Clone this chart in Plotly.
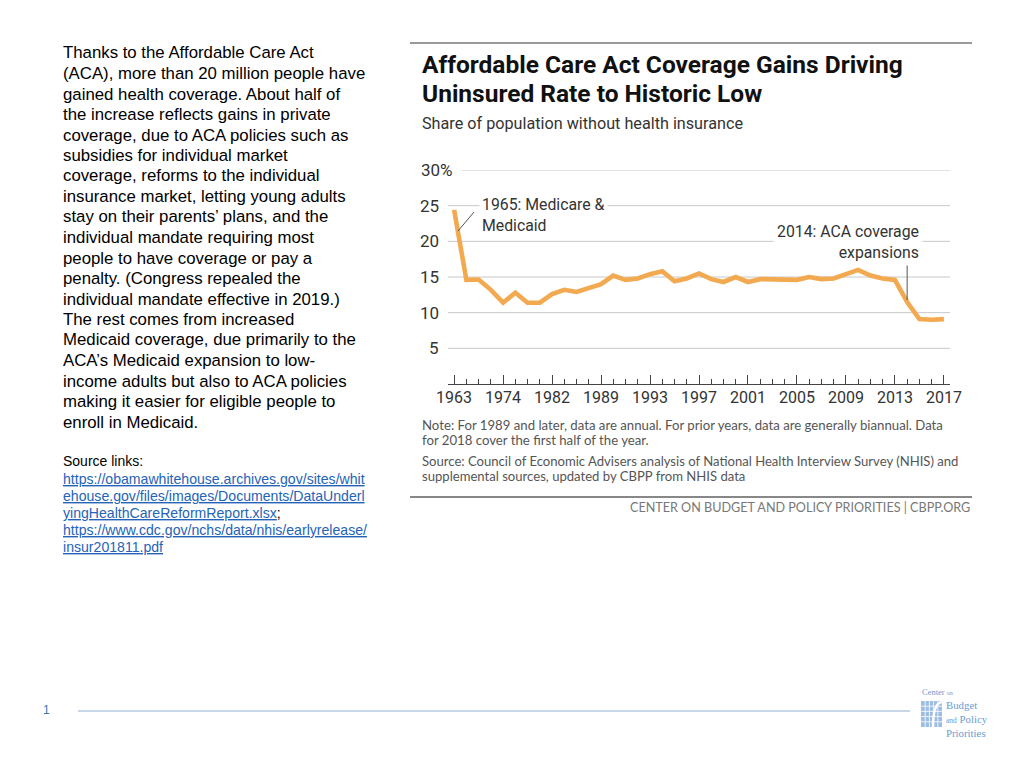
import plotly.graph_objects as go

# ---------------- data ----------------
years = [1963, 1968, 1970, 1972, 1974, 1976, 1978, 1980, 1982, 1984, 1986, 1987,
         1989, 1990, 1991, 1992, 1993, 1994, 1995, 1996, 1997, 1998, 1999, 2000,
         2001, 2002, 2003, 2004, 2005, 2006, 2007, 2008, 2009, 2010, 2011, 2012,
         2013, 2014, 2015, 2016, 2017]
uninsured_pct = [24.4, 14.6, 14.65, 13.2, 11.4, 12.8, 11.4, 11.4, 12.6, 13.2, 12.9, 13.4,
                 14.0, 15.2, 14.6, 14.8, 15.4, 15.8, 14.4, 14.8, 15.5, 14.7, 14.3, 15.0,
                 14.3, 14.7, 14.7, 14.7, 14.6, 15.0, 14.7, 14.8, 15.4, 16.0, 15.2, 14.8,
                 14.6, 11.5, 9.1, 9.0, 9.1]
labeled_years = [1963, 1974, 1982, 1989, 1993, 1997, 2001, 2005, 2009, 2013, 2017]
y_ticks = [0, 5, 10, 15, 20, 25, 30]

title_lines = [
    "Affordable Care Act Coverage Gains Driving",
    "Uninsured Rate to Historic Low",
]
body_lines = [
    "Thanks to the Affordable Care Act",
    "(ACA), more than 20 million people have",
    "gained health coverage. About half of",
    "the increase reflects gains in private",
    "coverage, due to ACA policies such as",
    "subsidies for individual market",
    "coverage, reforms to the individual",
    "insurance market, letting young adults",
    "stay on their parents\u2019 plans, and the",
    "individual mandate requiring most",
    "people to have coverage or pay a",
    "penalty. (Congress repealed the",
    "individual mandate effective in 2019.)",
    "The rest comes from increased",
    "Medicaid coverage, due primarily to the",
    "ACA\u2019s Medicaid expansion to low-",
    "income adults but also to ACA policies",
    "making it easier for eligible people to",
    "enroll in Medicaid.",
]
link_lines = [
    "https://obamawhitehouse.archives.gov/sites/whit",
    "ehouse.gov/files/images/Documents/DataUnderl",
    "yingHealthCareReformReport.xlsx",
    "https://www.cdc.gov/nchs/data/nhis/earlyrelease/",
    "insur201811.pdf",
]
note_lines = [
    "Note: For 1989 and later, data are annual. For prior years, data are generally biannual. Data",
    "for 2018 cover the first half of the year.",
]
source_lines = [
    "Source: Council of Economic Advisers analysis of National Health Interview Survey (NHIS) and",
    "supplemental sources, updated by CBPP from NHIS data",
]

# ---------------- helpers ----------------
W, H = 1024, 768
def PX(x):
    return x / W
def PY(y):
    return 1 - y / H

X0, X1 = 448, 950        # plot area (px)
Y0, Y1 = 384, 170        # y=0 and y=30 (px)

LINE_COLOR = "#F2A94F"
COND = "Roboto, sans-serif"
BOLD = "Roboto, sans-serif"
NOTE = "Lato, Roboto, sans-serif"
ARIAL = "Liberation Sans, Arial, sans-serif"
SERIF = "Liberation Serif, DejaVu Serif, serif"

idx = list(range(len(years)))
tickvals = [years.index(y) for y in labeled_years]

fig = go.Figure()
fig.add_trace(go.Scatter(
    x=idx, y=uninsured_pct, mode="lines",
    line=dict(color=LINE_COLOR, width=4.6),
    text=[str(y) for y in years],
    hovertemplate="%{text}: %{y}%<extra></extra>",
    showlegend=False,
))

shapes = []
annotations = []

def txt(x, y, text, size, color, family, xanchor="left", yanchor="middle", **kw):
    annotations.append(dict(xref="paper", yref="paper", x=PX(x), y=PY(y), text=text,
                            xanchor=xanchor, yanchor=yanchor, showarrow=False,
                            font=dict(family=family, size=size, color=color), **kw))

# gridlines
for t in y_ticks[1:]:
    x_start = PX(461) if t == 30 else PX(X0)
    shapes.append(dict(type="line", xref="paper", yref="y", x0=x_start, x1=PX(X1),
                       y0=t, y1=t, line=dict(color="#c8c8c8", width=1), layer="below"))

# y labels
for t in y_ticks:
    yy = t if t else -0.55
    label = "30%" if t == 30 else str(t)
    xr = 455 if t == 30 else 441
    annotations.append(dict(xref="paper", yref="y", x=PX(xr), y=yy, text=label,
                            xanchor="right", yanchor="middle", showarrow=False,
                            font=dict(family=COND, size=17, color="#333")))
# x labels
for v, yr in zip(tickvals, labeled_years):
    annotations.append(dict(xref="x", yref="paper", x=v, y=PY(397), text=str(yr),
                            xanchor="center", yanchor="middle", showarrow=False,
                            font=dict(family=COND, size=16, color="#333")))

# chart annotations
txt(479, 215, "1965: Medicare &<br>Medicaid", 15.8, "#333", COND,
    align="left", bgcolor="white", borderpad=2)
shapes.append(dict(type="line", xref="paper", yref="paper", x0=PX(458), y0=PY(231),
                   x1=PX(474), y1=PY(212), line=dict(color="#555", width=1)))
txt(923, 242, "2014: ACA coverage<br>expansions", 15.8, "#333", COND, xanchor="right",
    align="right", bgcolor="white", borderpad=3)
i2014 = years.index(2014)
shapes.append(dict(type="line", xref="x", yref="paper", x0=i2014, x1=i2014,
                   y0=PY(262), y1=PY(300), line=dict(color="#555", width=1)))

# title block (line spacing set by the base size, glyphs drawn at 24.5px)
shapes.append(dict(type="line", xref="paper", yref="paper", x0=PX(410), x1=PX(972),
                   y0=PY(43), y1=PY(43), line=dict(color="#777", width=1.5)))
title_html = "<br>".join("<span style='font-size:24.5px'><b>%s</b></span>" % l for l in title_lines)
txt(420, 79, title_html, 22.5, "#111", BOLD, align="left")
txt(420, 123, "Share of population without health insurance", 16.2, "#333", COND)

# notes
for i, l in enumerate(note_lines):
    txt(420, 425 + 15 * i, l, 13.2, "#555", NOTE)
for i, l in enumerate(source_lines):
    txt(420, 461 + 15 * i, l, 13.1, "#555", NOTE)
shapes.append(dict(type="line", xref="paper", yref="paper", x0=PX(410), x1=PX(972),
                   y0=PY(497), y1=PY(497), line=dict(color="#888", width=2)))
txt(972, 507, "CENTER ON BUDGET AND POLICY PRIORITIES | CBPP.ORG", 12.6, "#777", NOTE,
    xanchor="right")

# left body text
for i, l in enumerate(body_lines):
    txt(61, 53 + 20.5 * i, l, 16.8, "#000", ARIAL)
txt(61, 461, "Source links:", 14, "#000", ARIAL)
for i, l in enumerate(link_lines):
    t = "<span style='text-decoration:underline'>%s</span>" % l
    if i == 2:
        t += "<span style='color:#000'>;</span>"
    txt(61, 479 + 17 * i, t, 14.1, "#2563b8", ARIAL)

# slide footer
txt(46, 710, "1", 12, "#3a78b5", ARIAL, xanchor="center")
shapes.append(dict(type="line", xref="paper", yref="paper", x0=PX(78), x1=PX(910),
                   y0=PY(711), y1=PY(711), line=dict(color="#8fb0d0", width=1.2)))

# logo
LOGO = "#6b9bd1"
shapes.append(dict(type="rect", xref="paper", yref="paper", x0=PX(921), x1=PX(942),
                   y0=PY(727), y1=PY(701), fillcolor="#9dbde2", line=dict(width=0)))
for k in range(1, 5):
    shapes.append(dict(type="line", xref="paper", yref="paper", x0=PX(921 + k * 4.2),
                       x1=PX(921 + k * 4.2), y0=PY(727), y1=PY(701),
                       line=dict(color="white", width=0.8)))
    shapes.append(dict(type="line", xref="paper", yref="paper", x0=PX(921), x1=PX(942),
                       y0=PY(701 + k * 5.2), y1=PY(701 + k * 5.2),
                       line=dict(color="white", width=0.8)))
shapes.append(dict(type="path", xref="paper", yref="paper",
                   path="M %f %f Q %f %f %f %f" % (PX(933), PY(727), PX(933), PY(703), PX(942), PY(702)),
                   line=dict(color="white", width=2.5)))
txt(920, 692, "Center <span style='font-size:6px'>on</span>", 8.5, LOGO, SERIF)
txt(944, 697, "Budget<br><span style='font-size:7.5px'>and</span> Policy<br>Priorities", 10.8,
    LOGO, SERIF, yanchor="top", align="left")

fig.update_layout(
    width=W, height=H,
    margin=dict(l=0, r=0, t=0, b=0),
    paper_bgcolor="white", plot_bgcolor="white",
    shapes=shapes, annotations=annotations,
    xaxis=dict(domain=[PX(X0), PX(X1)], range=[-0.5, len(years) - 0.5],
               showgrid=False, zeroline=False, showline=True, linecolor="#444", linewidth=1.2,
               ticks="inside", ticklen=9, tickwidth=1.2, tickcolor="#444",
               tickmode="array", tickvals=tickvals, showticklabels=False,
               minor=dict(ticks="inside", ticklen=5, tickwidth=1, tickcolor="#444",
                          tickmode="linear", tick0=0, dtick=1, showgrid=False),
               fixedrange=True),
    yaxis=dict(domain=[PY(Y0), PY(Y1)], range=[0, 30], showgrid=False, zeroline=False,
               showticklabels=False, showline=False, ticks="", fixedrange=True),
    showlegend=False,
)

fig.write_html(
    "out.html",
    config={"displayModeBar": False},
    post_script="document.body.style.margin='0px';document.body.style.overflow='hidden';",
)
